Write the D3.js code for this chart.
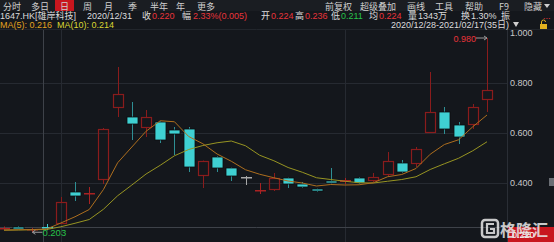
<!DOCTYPE html>
<html>
<head>
<meta charset="utf-8">
<script src="https://cdn.jsdelivr.net/npm/d3@7"></script>
<style>
  html, body { margin: 0; padding: 0; background: #14171c; }
  svg { display: block; }
  text { font-family: "Liberation Sans", "Noto Sans CJK SC", sans-serif; }
  .cjk { font-family: "Noto Sans CJK SC", sans-serif; }
</style>
</head>
<body>
<div id="chart"></div>
<script>
// daily candles 2020/12/28 - 2021/02/17 (35 days)
var dates = ["12/28","12/29","12/30","12/31","01/04","01/05","01/06","01/07","01/08",
  "01/11","01/12","01/13","01/14","01/15","01/18","01/19","01/20","01/21","01/22",
  "01/25","01/26","01/27","01/28","01/29","02/01","02/02","02/03","02/04","02/05",
  "02/08","02/09","02/10","02/11","02/16","02/17"];
var opens  = [0.218,0.225,0.212,0.224,0.240,0.364,0.358,0.416,0.704,0.664,0.624,0.644,0.612,0.616,0.432,0.504,0.460,0.424,0.370,0.376,0.420,0.396,0.376,0.408,0.404,0.420,0.412,0.436,0.480,0.480,0.604,0.684,0.632,0.636,0.736];
var highs  = [0.226,0.228,0.220,0.236,0.344,0.404,0.384,0.620,0.864,0.724,0.692,0.648,0.624,0.624,0.490,0.508,0.462,0.428,0.400,0.440,0.422,0.404,0.378,0.460,0.420,0.424,0.440,0.524,0.492,0.544,0.844,0.704,0.644,0.716,0.980];
var lows   = [0.214,0.215,0.203,0.211,0.238,0.328,0.316,0.396,0.664,0.572,0.584,0.560,0.512,0.444,0.380,0.444,0.408,0.392,0.356,0.368,0.380,0.380,0.364,0.398,0.396,0.396,0.404,0.428,0.440,0.464,0.600,0.596,0.556,0.616,0.684];
var closes = [0.222,0.217,0.216,0.220,0.324,0.348,0.362,0.616,0.756,0.636,0.664,0.572,0.596,0.464,0.488,0.460,0.428,0.424,0.374,0.420,0.396,0.384,0.368,0.400,0.412,0.400,0.424,0.488,0.444,0.536,0.684,0.616,0.584,0.704,0.772];
var ma5  = [0.212,0.213,0.214,0.216,0.240,0.265,0.294,0.374,0.481,0.544,0.607,0.649,0.645,0.586,0.557,0.516,0.487,0.453,0.435,0.421,0.408,0.400,0.388,0.394,0.392,0.393,0.401,0.425,0.434,0.458,0.515,0.554,0.573,0.625,0.672];
var ma10 = [0.211,0.212,0.213,0.214,0.225,0.239,0.254,0.295,0.349,0.392,0.436,0.471,0.509,0.534,0.550,0.561,0.568,0.549,0.511,0.489,0.462,0.443,0.421,0.414,0.407,0.401,0.400,0.407,0.414,0.425,0.454,0.477,0.499,0.529,0.565];
var yTicks = [0.4, 0.6, 0.8, 1.0];
var monthStarts = ["01/04", "02/01"];
var cursorDay = "12/31";

const w = 554, h = 242;
const red = "#8a1c1c", redText = "#e8343a", cyan = "#3fd0d2", cyanWick = "#2e8f94";
const green = "#27c24a";

const svg = d3.select("#chart").append("svg")
  .attr("width", w).attr("height", h);

svg.append("rect").attr("width", w).attr("height", h).attr("fill", "#14171c");

const xScale = d3.scalePoint().domain(dates).range([4, 487]);
const bodyW = 10;
const yScale = d3.scaleLinear().domain([0.2, 1.0]).range([233, 33]);

// header separator
svg.append("line").attr("x1", 0).attr("x2", w).attr("y1", 29.5).attr("y2", 29.5)
  .attr("stroke", "#22262c");

// grid
svg.append("g").selectAll("line").data(yTicks.slice(0, 3)).enter().append("line")
  .attr("x1", 0).attr("x2", 507)
  .attr("y1", d => Math.round(yScale(d)) + 0.5).attr("y2", d => Math.round(yScale(d)) + 0.5)
  .attr("stroke", "#262a31");
svg.append("g").selectAll("line").data(monthStarts).enter().append("line")
  .attr("x1", d => Math.round(xScale(d)) + 0.5).attr("x2", d => Math.round(xScale(d)) + 0.5)
  .attr("y1", 30).attr("y2", h)
  .attr("stroke", "#262a31");
// axis divider
svg.append("line").attr("x1", 507.5).attr("x2", 507.5).attr("y1", 30).attr("y2", h)
  .attr("stroke", "#2a2e35");

// crosshair
svg.append("line").attr("x1", Math.round(xScale(cursorDay)) - 3.5).attr("x2", Math.round(xScale(cursorDay)) - 3.5)
  .attr("y1", 30).attr("y2", h).attr("stroke", "#3e4249");
svg.append("line").attr("x1", 0).attr("x2", w)
  .attr("y1", Math.round(yScale(closes[3])) - 0.5).attr("y2", Math.round(yScale(closes[3])) - 0.5)
  .attr("stroke", "#3e4249");

// y axis labels
svg.append("g").selectAll("text").data(yTicks).enter().append("text")
  .attr("x", 510).attr("y", d => yScale(d) + 3)
  .attr("fill", "#c9c9c9").style("font-size", "9px")
  .text(d => d3.format(".3f")(d));

// candles
const idx = d3.range(dates.length);
const g = svg.append("g");
idx.forEach(function(i) {
  const cx = Math.round(xScale(dates[i])) + 0.5;
  const o = opens[i], c = closes[i];
  const yTop = yScale(Math.max(o, c)), yBot = yScale(Math.min(o, c));
  const up = c > o, flat = Math.abs(c - o) < 0.001;
  if (flat || yBot - yTop < 2) {
    const lc = flat ? "#a8a8a8" : (up ? "#a82222" : cyan);
    g.append("line").attr("x1", cx).attr("x2", cx)
      .attr("y1", yScale(highs[i])).attr("y2", yScale(lows[i])).attr("stroke", lc);
    g.append("rect").attr("x", cx - bodyW / 2 - 0.5).attr("y", Math.round(yTop))
      .attr("width", bodyW + 1).attr("height", Math.max(1.5, yBot - yTop))
      .attr("fill", lc);
    return;
  }
  if (up) {
    g.append("line").attr("x1", cx).attr("x2", cx)
      .attr("y1", yScale(highs[i])).attr("y2", yTop).attr("stroke", red);
    g.append("line").attr("x1", cx).attr("x2", cx)
      .attr("y1", yBot).attr("y2", yScale(lows[i])).attr("stroke", red);
    g.append("rect").attr("x", cx - bodyW / 2).attr("y", Math.round(yTop) + 0.5)
      .attr("width", bodyW).attr("height", Math.round(yBot - yTop))
      .attr("fill", "none").attr("stroke", red).attr("stroke-width", 1.2);
  } else {
    g.append("line").attr("x1", cx).attr("x2", cx)
      .attr("y1", yScale(highs[i])).attr("y2", yScale(lows[i])).attr("stroke", cyanWick);
    g.append("rect").attr("x", cx - bodyW / 2 - 0.5).attr("y", Math.round(yTop))
      .attr("width", bodyW + 1).attr("height", Math.round(yBot - yTop))
      .attr("fill", cyan).attr("stroke", "#0b0d10").attr("stroke-width", 0.8);
  }
});

// moving averages
const line = (arr) => d3.line().x(i => xScale(dates[i])).y(i => yScale(arr[i]))(idx);
svg.append("path").attr("d", line(ma10)).attr("fill", "none")
  .attr("stroke", "#979422").attr("stroke-width", 1);
svg.append("path").attr("d", line(ma5)).attr("fill", "none")
  .attr("stroke", "#ad6e1e").attr("stroke-width", 1);

// max / min markers
const iMax = d3.maxIndex(highs), iMin = d3.minIndex(lows);
const xMax = xScale(dates[iMax]), yMax = yScale(highs[iMax]);
svg.append("line").attr("x1", xMax - 11).attr("x2", xMax).attr("y1", yMax).attr("y2", yMax)
  .attr("stroke", "#9a9a9a");
svg.append("path").attr("d", `M${xMax - 3},${yMax - 2}L${xMax},${yMax}L${xMax - 3},${yMax + 2}`)
  .attr("fill", "none").attr("stroke", "#9a9a9a");
svg.append("text").attr("x", xMax - 11).attr("y", yMax + 4).attr("text-anchor", "end")
  .attr("fill", redText).style("font-size", "9px").text(d3.format(".3f")(highs[iMax]));
const xMin = xScale(dates[iMin]), yMin = yScale(lows[iMin]);
svg.append("line").attr("x1", xMin).attr("x2", xMin + 10).attr("y1", yMin).attr("y2", yMin)
  .attr("stroke", "#9a9a9a");
svg.append("path").attr("d", `M${xMin + 3},${yMin - 2}L${xMin},${yMin}L${xMin + 3},${yMin + 2}`)
  .attr("fill", "none").attr("stroke", "#9a9a9a");
svg.append("text").attr("x", xMin + 10).attr("y", yMin + 4)
  .attr("fill", green).style("font-size", "9.5px").text(d3.format(".3f")(lows[iMin]));

// current price tag on axis
const yCur = yScale(closes[3]);
svg.append("rect").attr("x", 508).attr("y", yCur - 1).attr("width", 46).attr("height", 15)
  .attr("fill", "#c8161e");
svg.append("text").attr("x", 512).attr("y", yCur + 10).attr("fill", "#fff")
  .style("font-size", "9px").text(d3.format(".3f")(closes[3]));
// scroll handle
svg.append("rect").attr("x", 549).attr("y", 178).attr("width", 5).attr("height", 8).attr("fill", "#6a6e74");

// watermark
const wm = svg.append("g").attr("opacity", 0.85);
wm.append("rect").attr("x", 482).attr("y", 220).attr("width", 16).attr("height", 17).attr("rx", 3)
  .attr("fill", "none").attr("stroke", "#e8e8e8").attr("stroke-width", 2.5);
wm.append("path").attr("d", "M494,224H487V233H494V229H490").attr("fill", "none")
  .attr("stroke", "#e8e8e8").attr("stroke-width", 2.2);
wm.append("text").attr("class", "cjk").attr("x", 500).attr("y", 236)
  .attr("fill", "#e8e8e8").style("font-size", "16px").style("font-weight", "bold").text("格隆汇");

// header: toolbar
svg.append("rect").attr("x", 0).attr("y", 0).attr("width", w).attr("height", 11).attr("fill", "#1a1d22");
svg.append("rect").attr("x", 55).attr("y", 0).attr("width", 19).attr("height", 11).attr("fill", "#c8161e");
var tabs = [["分时",3],["多日",31],["日",60],["周",83],["月",104],["季",128],["半年",150],["年",176],["更多",197],
  ["前复权",325],["超级叠加",360],["画线",407],["工具",435],["帮助",465],["F9",499],["隐藏",524]];
svg.append("g").selectAll("text").data(tabs).enter().append("text")
  .attr("class", "cjk").attr("x", d => d[1]).attr("y", 9.5)
  .attr("fill", "#cfcfcf").style("font-size", "9px").text(d => d[0]);
svg.append("path").attr("d", "M544,4L550,4L547,8Z").attr("fill", "#cfcfcf");

// header: quote line
var quote = [["1647.HK[雄岸科技]",0,"#dcdcdc"],["2020/12/31",87,"#dcdcdc"],
  ["收",142,"#dcdcdc"],["0.220",152,redText],["幅",182,"#dcdcdc"],["2.33%(0.005)",193,redText],
  ["开",261,"#dcdcdc"],["0.224",271,redText],["高",295,"#dcdcdc"],["0.236",305,redText],
  ["低",331,"#dcdcdc"],["0.211",341,green],["均",369,"#dcdcdc"],["0.224",379,redText],
  ["量",408,"#dcdcdc"],["1343万",418,"#dcdcdc"],["换",461,"#dcdcdc"],["1.30%",471,"#dcdcdc"],
  ["振",501,"#dcdcdc"],["...",543,redText]];
svg.append("g").selectAll("text").data(quote).enter().append("text")
  .attr("x", d => d[1]).attr("y", 19)
  .attr("fill", d => d[2]).style("font-size", "9px").text(d => d[0]);

// header: MA legend and range
svg.append("text").attr("x", 0).attr("y", 28).attr("fill", "#e3a21f").style("font-size", "9px")
  .text("MA(5): " + d3.format(".3f")(ma5[3]));
svg.append("text").attr("x", 57).attr("y", 28).attr("fill", "#d9d633").style("font-size", "9px")
  .text("MA(10): " + d3.format(".3f")(ma10[3]));
svg.append("text").attr("x", 391).attr("y", 28).attr("fill", "#dcdcdc").style("font-size", "9px")
  .text("2020/12/28-2021/02/17(35日)");
svg.append("path").attr("d", "M513,22L519,22L516,27Z").attr("fill", "#cfcfcf");
svg.append("rect").attr("x", 540).attr("y", 24).attr("width", 7).attr("height", 5).attr("fill", "#e3b21f");
svg.append("path").attr("d", "M541.5,24V22a2,2 0 0 1 4,0").attr("fill", "none").attr("stroke", "#e3b21f");
</script>
</body>
</html>
